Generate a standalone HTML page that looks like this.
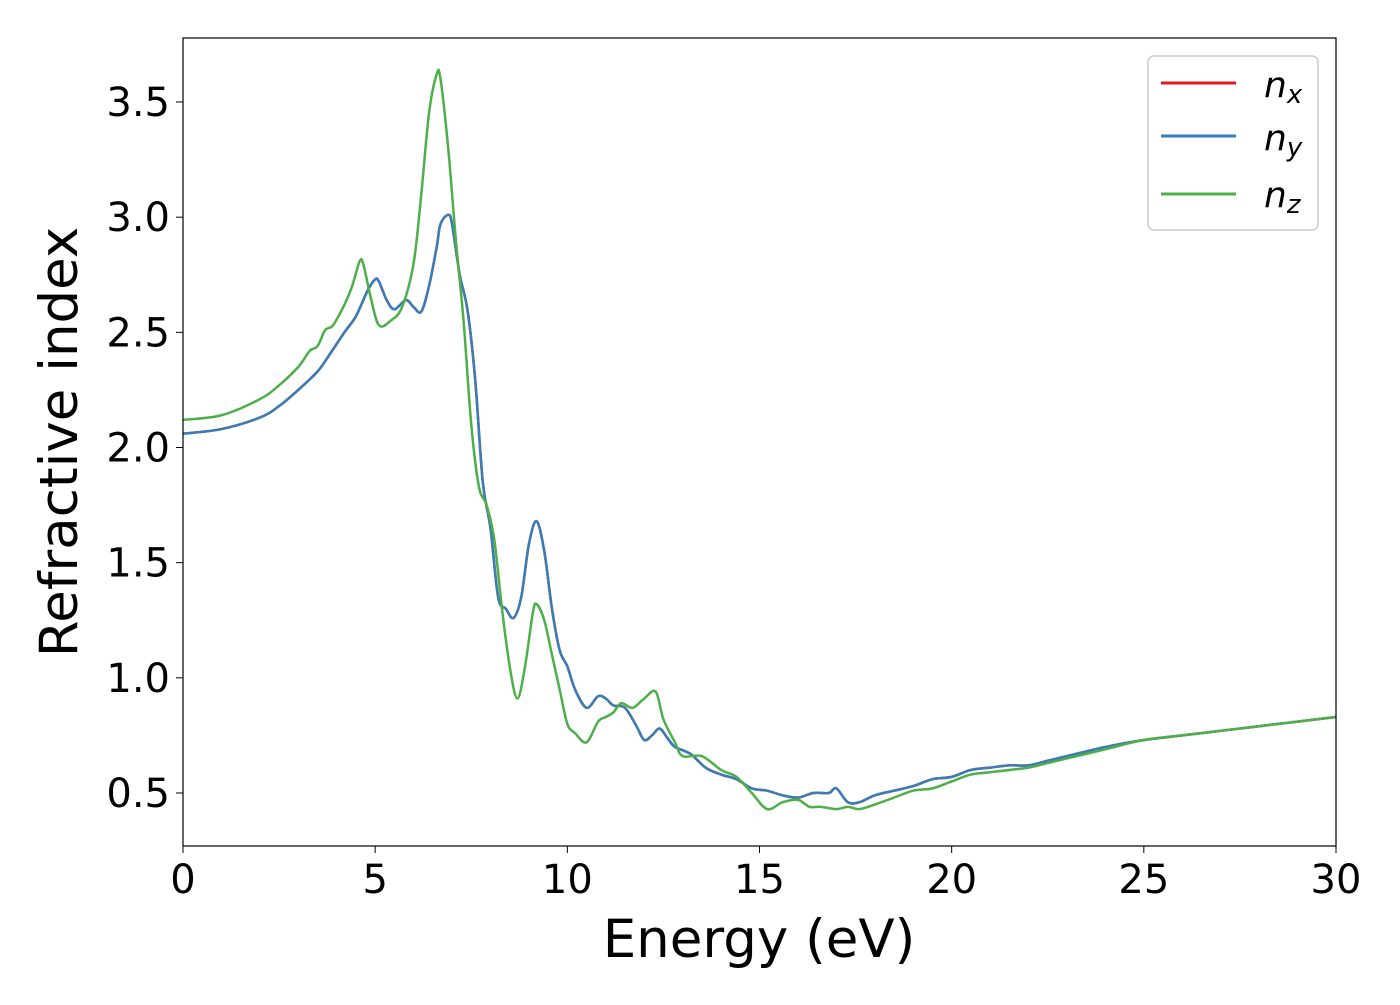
<!DOCTYPE html>
<html><head><meta charset="utf-8"><style>
body{margin:0;background:#fff;}
svg{font-family:"DejaVu Sans","Liberation Sans",sans-serif;}
</style></head><body>
<svg id="chart" width="1400" height="1000" viewBox="0 0 1400 1000">
<g id="series"></g>
<rect x="183" y="38" width="1153" height="808" fill="none" stroke="#000" stroke-width="1.2"/>
<g id="xticks"></g>
<g id="yticks"></g>
<text x="759" y="957" font-size="53" text-anchor="middle">Energy (eV)</text>
<text transform="translate(77,442) rotate(-90)" font-size="53" text-anchor="middle">Refractive index</text>
<g>
<rect x="1148" y="56" width="170" height="174" rx="6" fill="#fff" stroke="#ccc" stroke-width="1.5"/>
<line x1="1161" y1="83" x2="1236" y2="83" stroke="#e41a1c" stroke-width="3"/>
<text x="1264" y="97" font-size="36" font-style="italic">n<tspan font-size="26" dy="6">x</tspan></text>
<line x1="1161" y1="136" x2="1236" y2="136" stroke="#377eb8" stroke-width="3"/>
<text x="1264" y="150" font-size="36" font-style="italic">n<tspan font-size="26" dy="6">y</tspan></text>
<line x1="1161" y1="194" x2="1236" y2="194" stroke="#4daf4a" stroke-width="3"/>
<text x="1264" y="207" font-size="36" font-style="italic">n<tspan font-size="26" dy="6">z</tspan></text>
</g>
</svg>
<script>
const xTicks=[0,5,10,15,20,25,30];
const yTicks=[0.5,1.0,1.5,2.0,2.5,3.0,3.5];
const yTickLabels=["0.5","1.0","1.5","2.0","2.5","3.0","3.5"];
const energyXY=[0,1,2,2.5,3,3.5,3.8,4.2,4.5,4.8,5.0,5.1,5.3,5.5,5.8,6.0,6.2,6.4,6.6,6.7,6.9,7.0,7.2,7.4,7.6,7.8,8.0,8.2,8.4,8.6,8.8,9.0,9.2,9.4,9.6,9.8,10.0,10.2,10.5,10.8,11.0,11.2,11.5,11.8,12.0,12.2,12.4,12.6,12.8,13.2,13.6,14,14.4,14.8,15.2,15.6,16.0,16.4,16.8,17.0,17.3,17.6,18,18.5,19,19.5,20,20.5,21,21.5,22,22.5,23,24,25,26,27,28,29,30];
const nx=[2.06,2.08,2.13,2.18,2.25,2.33,2.40,2.50,2.57,2.68,2.73,2.72,2.64,2.60,2.64,2.61,2.59,2.70,2.87,2.97,3.01,2.97,2.75,2.6,2.3,1.85,1.65,1.35,1.30,1.26,1.35,1.58,1.68,1.55,1.30,1.12,1.05,0.95,0.87,0.92,0.91,0.88,0.87,0.79,0.73,0.75,0.78,0.74,0.70,0.67,0.61,0.58,0.56,0.52,0.51,0.49,0.48,0.50,0.50,0.52,0.46,0.46,0.49,0.51,0.53,0.56,0.57,0.60,0.61,0.62,0.62,0.64,0.66,0.70,0.73,0.75,0.77,0.79,0.81,0.83];
const ny=nx.slice();
const energyZ=[0,1,2,2.5,3,3.3,3.5,3.7,3.9,4.2,4.4,4.6,4.7,4.9,5.1,5.4,5.7,6.0,6.2,6.4,6.6,6.7,6.9,7.1,7.3,7.5,7.7,7.9,8.1,8.3,8.5,8.7,8.9,9.1,9.2,9.4,9.6,9.8,10.0,10.2,10.5,10.8,11.0,11.2,11.4,11.7,12.0,12.3,12.5,12.8,13.0,13.5,14,14.4,14.8,15.2,15.6,16.0,16.3,16.6,17,17.3,17.6,18,18.5,19,19.5,20,20.5,21,21.5,22,22.5,23,24,25,26,27,28,29,30];
const nz=[2.12,2.14,2.21,2.27,2.35,2.42,2.44,2.51,2.53,2.62,2.70,2.81,2.79,2.64,2.53,2.55,2.61,2.80,3.10,3.45,3.62,3.60,3.30,2.90,2.55,2.10,1.83,1.75,1.60,1.30,1.05,0.91,1.05,1.28,1.32,1.25,1.10,0.95,0.80,0.76,0.72,0.81,0.83,0.85,0.89,0.87,0.91,0.94,0.82,0.72,0.66,0.66,0.60,0.57,0.50,0.43,0.46,0.47,0.44,0.44,0.43,0.44,0.43,0.45,0.48,0.51,0.52,0.55,0.58,0.59,0.60,0.61,0.63,0.65,0.69,0.73,0.75,0.77,0.79,0.81,0.83];
const NS='http://www.w3.org/2000/svg';
const X=e=>183+e*(1153/30);
const Y=n=>793-(n-0.5)*230.33;
function pathD(xs,ys){
  const p=xs.map((x,i)=>[X(x),Y(ys[i])]);
  let d='M'+p[0][0]+','+p[0][1];
  for(let i=0;i<p.length-1;i++){
    const p0=p[Math.max(0,i-1)],p1=p[i],p2=p[i+1],p3=p[Math.min(p.length-1,i+2)];
    const c1=[p1[0]+(p2[0]-p0[0])/6,p1[1]+(p2[1]-p0[1])/6];
    const c2=[p2[0]-(p3[0]-p1[0])/6,p2[1]-(p3[1]-p1[1])/6];
    d+=' C'+c1+' '+c2+' '+p2;
  }
  return d;
}
const g=document.getElementById('series');
[[energyXY,nx,'#e41a1c','line-nx'],[energyXY,ny,'#377eb8','line-ny'],[energyZ,nz,'#4daf4a','line-nz']].forEach(s=>{
  const el=document.createElementNS(NS,'path');
  el.setAttribute('d',pathD(s[0],s[1]));
  el.setAttribute('fill','none');el.setAttribute('stroke',s[2]);el.setAttribute('stroke-width','2.5');
  
  
  g.appendChild(el);
});
const xg=document.getElementById('xticks');
xTicks.forEach(t=>{
  const l=document.createElementNS(NS,'line');
  l.setAttribute('x1',X(t));l.setAttribute('x2',X(t));l.setAttribute('y1',846);l.setAttribute('y2',853);l.setAttribute('stroke','#000');
  
  
  xg.appendChild(l);
  const tx=document.createElementNS(NS,'text');
  tx.setAttribute('x',X(t));tx.setAttribute('y',893);tx.setAttribute('font-size','40');tx.setAttribute('text-anchor','middle');
  tx.textContent=t;
  
  
  xg.appendChild(tx);
});
const yg=document.getElementById('yticks');
yTicks.forEach((t,i)=>{
  const l=document.createElementNS(NS,'line');
  l.setAttribute('x1',176);l.setAttribute('x2',183);l.setAttribute('y1',Y(t));l.setAttribute('y2',Y(t));l.setAttribute('stroke','#000');
  
  
  yg.appendChild(l);
  const tx=document.createElementNS(NS,'text');
  tx.setAttribute('x',170);tx.setAttribute('y',Y(t)+14);tx.setAttribute('font-size','40');tx.setAttribute('text-anchor','end');
  tx.textContent=yTickLabels[i];
  
  
  yg.appendChild(tx);
});
</script>
</body></html>
